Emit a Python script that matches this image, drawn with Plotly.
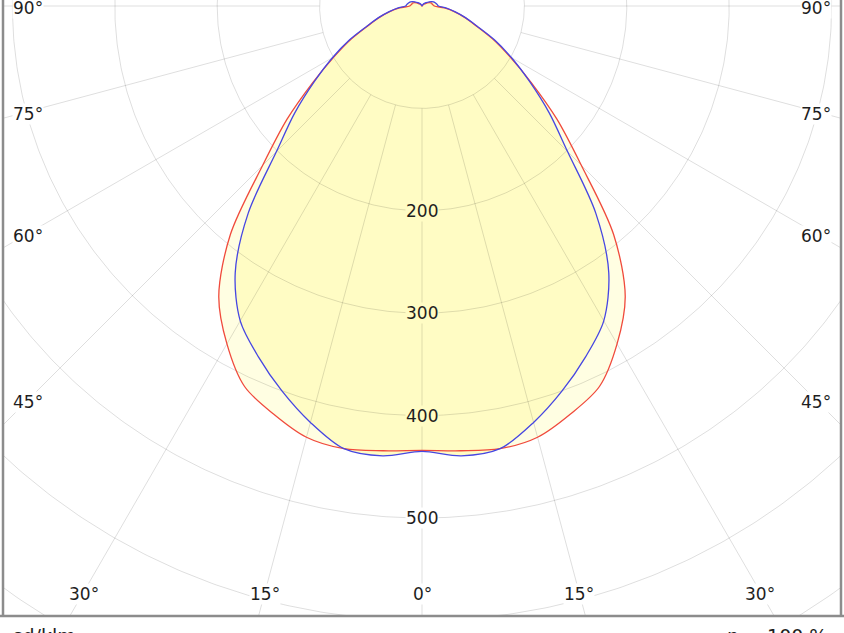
import numpy as np
import plotly.graph_objects as go

# ---------------- data ----------------
angles_deg = list(range(0, 181, 5))
red_cdklm = [434, 436, 439, 436, 424, 410, 381, 346, 291, 220, 172, 130, 99, 76, 56, 43, 32, 22, 12,
             11, 10, 10, 9, 8, 6, 4, 3, 2, 1, 1, 0, 0, 0, 0, 0, 0, 0]
blue_cdklm = [435, 441, 439, 421, 400, 378, 355, 318, 264, 201, 162, 128, 101, 78, 57, 44, 33, 24, 16,
              15, 14, 13, 12, 10, 8, 6, 5, 4, 3, 2, 1, 0, 0, 0, 0, 0, 0]
grid_radii = [100, 200, 300, 400, 500, 600, 700, 800, 900]
spoke_angles = list(range(-90, 91, 15))
radial_labels = [200, 300, 400, 500]
angle_labels = [-90, -75, -60, -45, -30, -15, 0, 15, 30, 45, 60, 75, 90]
unit_text = "cd/klm"
eta_text = "η = 100 %"

# ---------------- geometry ----------------
W, H = 844, 633
S = 1.024          # px per cd/klm
CX, CY = 422, 6    # pole in pixels
ML, MR, MB, MT = 3, 3, 17, 0
x_rng = [(ML - CX) / S, (W - MR - CX) / S]
y_rng = [-(H - MB - CY) / S, CY / S]

FONT = "DejaVu Sans"
TXT = "#1e1e1e"
GRID = "rgba(0,0,0,0.13)"
YEL = "#fffcc4"
YEL_L = "#fffee2"


def curve(vals):
    a = np.radians(angles_deg)
    v = np.array(vals, float)
    full_a = np.concatenate([-a[::-1], a[1:]])
    full_v = np.concatenate([v[::-1], v[1:]])
    return full_v * np.sin(full_a), -full_v * np.cos(full_a)


fig = go.Figure()

rx, ry = curve(red_cdklm)
bx, by = curve(blue_cdklm)

# fills
fig.add_trace(go.Scatter(x=rx, y=ry, mode="lines", fill="toself", fillcolor=YEL_L,
                         line=dict(width=0, shape="spline", smoothing=0.9),
                         hoverinfo="skip", showlegend=False))
fig.add_trace(go.Scatter(x=bx, y=by, mode="lines", fill="toself", fillcolor=YEL,
                         line=dict(width=0, shape="spline", smoothing=0.9),
                         hoverinfo="skip", showlegend=False))

# grid circles
t = np.linspace(0, 2 * np.pi, 721)
for r in grid_radii:
    fig.add_trace(go.Scatter(x=r * np.sin(t), y=r * np.cos(t), mode="lines",
                             line=dict(color=GRID, width=1), hoverinfo="skip", showlegend=False))
# spokes
for a in spoke_angles:
    ar = np.radians(a)
    r0, r1 = grid_radii[0], 1000
    fig.add_trace(go.Scatter(x=[r0 * np.sin(ar), r1 * np.sin(ar)],
                             y=[-r0 * np.cos(ar), -r1 * np.cos(ar)], mode="lines",
                             line=dict(color=GRID, width=1), hoverinfo="skip", showlegend=False))

# curves
fig.add_trace(go.Scatter(x=rx, y=ry, mode="lines",
                         line=dict(color="#f04a3c", width=1.3, shape="spline", smoothing=0.9),
                         hoverinfo="skip", showlegend=False))
fig.add_trace(go.Scatter(x=bx, y=by, mode="lines",
                         line=dict(color="#4646e2", width=1.3, shape="spline", smoothing=0.9),
                         hoverinfo="skip", showlegend=False))

ann = []
# radial value labels
for r in radial_labels:
    inside = r < blue_cdklm[0]
    ann.append(dict(x=0, y=-r, xref="x", yref="y", text=str(r), showarrow=False,
                    font=dict(family=FONT, size=17, color=TXT),
                    bgcolor=YEL if inside else "white", borderpad=0))

# angle labels at the inset box
bx_lim = (816 - CX) / S
by_lim = (592 - CY) / S
for a in angle_labels:
    ar = np.radians(a)
    sx, cy = np.sin(ar), np.cos(ar)
    cands = []
    if abs(sx) > 1e-9:
        cands.append(bx_lim / abs(sx))
    if cy > 1e-9:
        cands.append(by_lim / cy)
    tt = min(cands)
    lx, ly = tt * sx, -tt * cy
    ann.append(dict(x=lx, y=ly - 2.3 / S, xref="x", yref="y", text=f"{abs(a)}°", showarrow=False,
                    font=dict(family=FONT, size=17, color=TXT), bgcolor="white", borderpad=0))

ann.append(dict(x=(10 - ML) / (W - ML - MR), y=(MB - 24) / (H - MB - MT), xref="paper", yref="paper",
                xanchor="left", yanchor="top", text=unit_text, showarrow=False,
                font=dict(family=FONT, size=19, color=TXT)))
ann.append(dict(x=(829 - ML) / (W - ML - MR), y=(MB - 24) / (H - MB - MT), xref="paper", yref="paper",
                xanchor="right", yanchor="top", text=eta_text, showarrow=False,
                font=dict(family=FONT, size=19, color=TXT)))

shapes = [
    dict(type="line", xref="paper", yref="paper", x0=0, x1=0, y0=0, y1=1.05,
         line=dict(color="#8c8c8c", width=2.5)),
    dict(type="line", xref="paper", yref="paper", x0=1, x1=1, y0=0, y1=1.05,
         line=dict(color="#8c8c8c", width=2.5)),
    dict(type="line", xref="paper", yref="paper", x0=-0.01, x1=1.01, y0=0, y1=0,
         line=dict(color="#8c8c8c", width=2.5)),
]

fig.update_layout(
    width=W, height=H, autosize=False,
    margin=dict(l=ML, r=MR, t=MT, b=MB, pad=0),
    paper_bgcolor="white", plot_bgcolor="white",
    xaxis=dict(range=x_rng, visible=False, fixedrange=True),
    yaxis=dict(range=y_rng, visible=False, fixedrange=True),
    annotations=ann, shapes=shapes,
)

fig.write_html("out.html")
